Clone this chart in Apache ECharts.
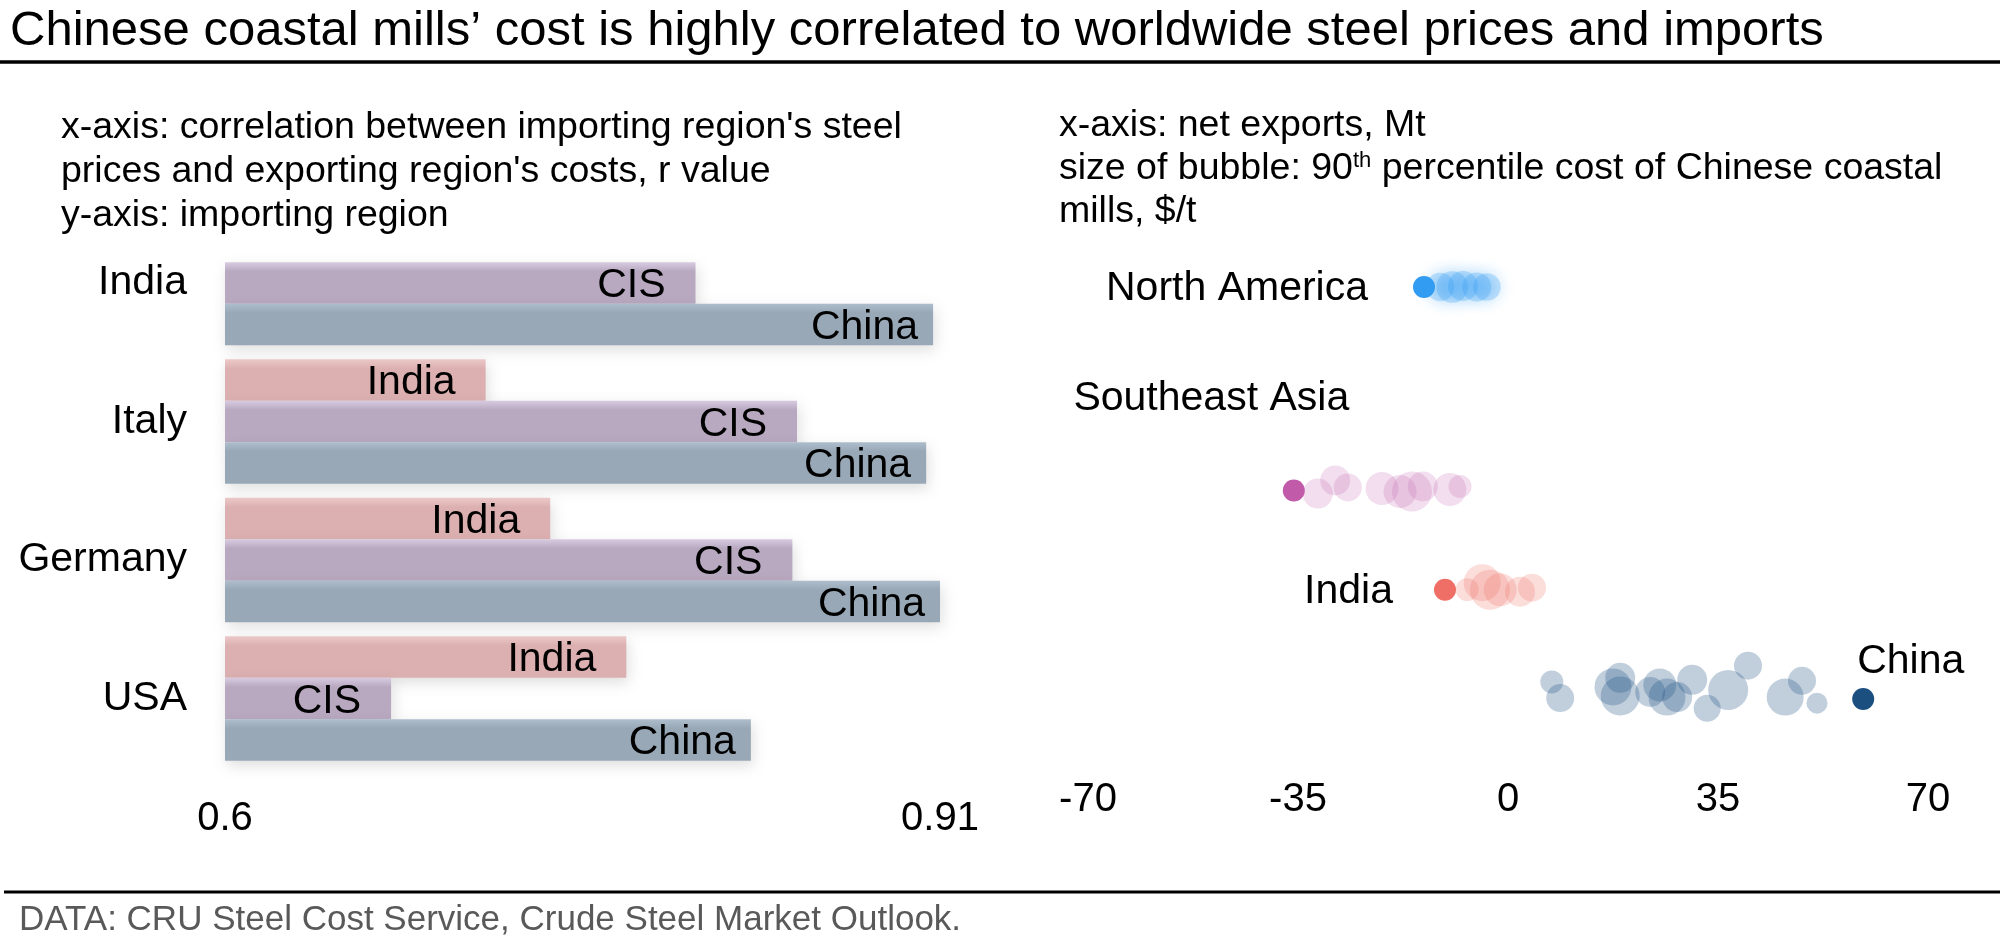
<!DOCTYPE html>
<html>
<head>
<meta charset="utf-8">
<script src="https://cdn.jsdelivr.net/npm/echarts@6/dist/echarts.min.js"></script>
<style>
  html, body { margin: 0; padding: 0; background: #fff; }
  #chart { width: 2006px; height: 948px; }
</style>
</head>
<body>
<div id="chart"></div>
<script>
// ---------- Left panel: correlations (r value) ----------
const importingRegions = ['India', 'Italy', 'Germany', 'USA'];
const exporterNames = ['India', 'CIS', 'China'];
const corrFromIndia = [null, 0.713, 0.741, 0.774];
const corrFromCIS   = [0.804, 0.848, 0.846, 0.672];
const corrFromChina = [0.907, 0.904, 0.910, 0.828];
const corrTicks = [0.6, 0.91];

// ---------- Right panel: net exports (Mt) and 90th pct cost ($/t) ----------
const regionNames = ['North America', 'Southeast Asia', 'India', 'China'];
const netExportTicks = [-70, -35, 0, 35, 70];

const naExports = [-11.3, -9.3, -7.5, -5.2, -3.5];
const naRow     = [1.0, 1.0, 0.99, 1.0, 1.0];
const naCost    = [340, 380, 360, 350, 330];

const seaExports = [-31.7, -28.8, -26.7, -21.0, -18.0, -16.0, -14.2, -9.7, -8.0];
const seaRow     = [3.04, 2.91, 2.98, 2.99, 3.02, 3.02, 2.97, 3.00, 2.97];
const seaCost    = [360, 360, 336, 396, 396, 480, 360, 396, 276];

const indExports = [-6.8, -4.3, -3.0, -1.3, 2.0, 4.0];
const indRow     = [3.99, 3.92, 3.99, 3.99, 4.01, 3.97];
const indCost    = [276, 444, 480, 396, 360, 336];

const chnExports = [7.3, 8.7, 17.5, 18.7, 18.7, 23.7, 25.3, 26.5, 28.2, 30.7, 33.2, 36.7, 40.0, 46.2, 49.0, 51.5];
const chnRow     = [4.90, 5.06, 4.95, 4.86, 5.04, 5.00, 4.93, 5.05, 5.05, 4.88, 5.16, 4.98, 4.74, 5.05, 4.89, 5.11];
const chnCost    = [276, 336, 444, 360, 468, 360, 396, 444, 360, 360, 324, 480, 336, 444, 336, 252];

const latestExports = [-14.0, -35.7, -10.5, 59.2];
const latestRow     = [1.0, 3.01, 3.99, 5.07];

// ---------- build ----------
const FONT = '"Liberation Sans", Arial, Helvetica, sans-serif';
const chart = echarts.init(document.getElementById('chart'), null, { renderer: 'canvas' });

function grad(top, body) {
  return { type: 'linear', x: 0, y: 0, x2: 0, y2: 1,
    colorStops: [{ offset: 0, color: top }, { offset: 0.22, color: body }, { offset: 1, color: body }] };
}
const barStyles = [
  { top: '#eecaca', body: '#dcb0b0', dist: 30 },
  { top: '#d8cbe0', body: '#b8a9c1', dist: 30 },
  { top: '#adbdcb', body: '#98a8b6', dist: 15 }
];
const barValues = [corrFromIndia, corrFromCIS, corrFromChina];

const barSeries = exporterNames.map((name, i) => ({
  name: name,
  type: 'bar',
  xAxisIndex: 0, yAxisIndex: 0,
  data: barValues[i],
  barWidth: 41.5,
  barGap: '0%',
  itemStyle: {
    color: grad(barStyles[i].top, barStyles[i].body),
    shadowBlur: 14, shadowColor: 'rgba(0,0,0,0.13)', shadowOffsetY: 5, shadowOffsetX: 2
  },
  label: {
    show: true, position: 'insideRight', distance: barStyles[i].dist, offset: [0, 3],
    formatter: () => name, color: '#000', fontSize: 41, fontFamily: FONT
  },
  emphasis: { disabled: true },
  silent: true
}));

function bubbles(xs, ys, cs) {
  return xs.map((x, i) => [x, ys[i], cs[i]]);
}
const bubbleColors = ['#319cf2', '#c05aa9', '#ef6f66', '#1b4f80'];
const bubbleAlpha  = [0.26, 0.2, 0.24, 0.27];
const bubbleSets = [
  bubbles(naExports, naRow, naCost),
  bubbles(seaExports, seaRow, seaCost),
  bubbles(indExports, indRow, indCost),
  bubbles(chnExports, chnRow, chnCost)
];
const fadedSeries = bubbleSets.map((d, i) => ({
  name: regionNames[i] + ' history',
  type: 'scatter',
  xAxisIndex: 1, yAxisIndex: 1,
  data: d,
  symbolSize: v => v[2] / 12,
  itemStyle: Object.assign({ color: bubbleColors[i], opacity: bubbleAlpha[i] },
    i === 0 ? { shadowBlur: 16, shadowColor: 'rgba(49,156,242,0.9)' } : {}),
  emphasis: { disabled: true },
  silent: true,
  z: 2
}));

const labelStyles = [
  { position: 'left', distance: 45, offset: [0, 2] },
  { position: [-71.5, -81], align: 'center', verticalAlign: 'middle' },
  { position: 'left', distance: 41, offset: [0, 2] },
  { position: [5, -26], align: 'left', verticalAlign: 'middle' }
];
const latestSeries = regionNames.map((name, i) => ({
  name: name,
  type: 'scatter',
  xAxisIndex: 1, yAxisIndex: 1,
  data: [[latestExports[i], latestRow[i]]],
  symbolSize: 22,
  itemStyle: { color: bubbleColors[i], opacity: 1 },
  label: Object.assign({ show: true, formatter: () => name, color: '#000', fontSize: 41, fontFamily: FONT }, labelStyles[i]),
  emphasis: { disabled: true },
  silent: true,
  z: 3
}));

const subStyle = { fill: '#000', fontSize: 37.5, fontFamily: FONT, verticalAlign: 'middle', align: 'left' };
function line(x1, y, x2, w) {
  return { type: 'line', shape: { x1: x1, y1: y, x2: x2, y2: y }, style: { stroke: '#000', lineWidth: w } };
}

const option = {
  backgroundColor: '#fff',
  animation: false,
  textStyle: { fontFamily: FONT },
  grid: [
    { left: 225, top: 213.75, width: 715, height: 554, containLabel: false },
    { left: 1088, top: 185.75, width: 840, height: 587.25, containLabel: false }
  ],
  xAxis: [
    { type: 'value', gridIndex: 0, min: 0.6, max: 0.91,
      axisLine: { show: false }, axisTick: { show: false }, splitLine: { show: false },
      axisLabel: { customValues: corrTicks, formatter: v => String(v), margin: 31,
        fontSize: 40, color: '#000', fontFamily: FONT, showMinLabel: true, showMaxLabel: true } },
    { type: 'value', gridIndex: 1, min: netExportTicks[0], max: netExportTicks[netExportTicks.length - 1], interval: 35,
      axisLine: { show: false }, axisTick: { show: false }, splitLine: { show: false },
      axisLabel: { margin: 7, fontSize: 40, color: '#000', fontFamily: FONT, showMinLabel: true, showMaxLabel: true } }
  ],
  yAxis: [
    { type: 'category', gridIndex: 0, data: importingRegions, inverse: true,
      axisLine: { show: false }, axisTick: { show: false }, splitLine: { show: false },
      axisLabel: { margin: 38, fontSize: 41, color: '#000', fontFamily: FONT, padding: [4, 0, 0, 0] } },
    { type: 'value', gridIndex: 1, min: 0, max: 5.8, inverse: true, show: false }
  ],
  series: barSeries.concat(fadedSeries, latestSeries),
  graphic: [
    { type: 'text', x: 10, y: 31, style: { text: 'Chinese coastal mills\u2019 cost is highly correlated to worldwide steel prices and imports',
      fill: '#000', fontSize: 49, fontFamily: FONT, verticalAlign: 'middle', align: 'left' } },
    line(0, 62, 2000, 3.5),
    { type: 'text', x: 61, y: 128, style: Object.assign({ text: "x-axis: correlation between importing region's steel" }, subStyle) },
    { type: 'text', x: 61, y: 172, style: Object.assign({ text: "prices and exporting region's costs, r value" }, subStyle) },
    { type: 'text', x: 61, y: 216, style: Object.assign({ text: 'y-axis: importing region' }, subStyle) },
    { type: 'text', x: 1059, y: 126, style: Object.assign({ text: 'x-axis: net exports, Mt' }, subStyle) },
    { type: 'text', x: 1059, y: 169, style: Object.assign({
        text: 'size of bubble: 90{sup|th} percentile cost of Chinese coastal',
        rich: { sup: { fontSize: 22, fontFamily: FONT, fill: '#000', verticalAlign: 'top', lineHeight: 22, padding: [0, 0, 14, 0] } }
      }, subStyle) },
    { type: 'text', x: 1059, y: 212, style: Object.assign({ text: 'mills, $/t' }, subStyle) },
    line(4, 892, 2000, 3),
    { type: 'text', x: 19, y: 920, style: { text: 'DATA: CRU Steel Cost Service, Crude Steel Market Outlook.',
      fill: '#595959', fontSize: 35, fontFamily: FONT, verticalAlign: 'middle', align: 'left' } }
  ]
};
chart.setOption(option);
</script>
</body>
</html>
